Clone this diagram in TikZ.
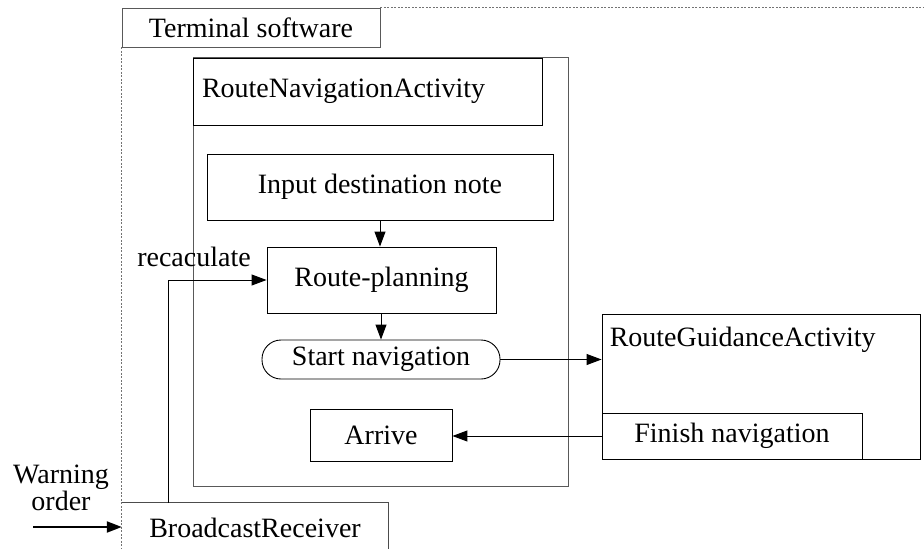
\documentclass[tikz,border=0pt]{standalone}
\usepackage{fontspec}
\setmainfont{Liberation Serif}
\usetikzlibrary{arrows.meta}
\begin{document}
\begin{tikzpicture}[x=1pt,y=-1pt,
  txt/.style={font=\fontsize{28}{24}\selectfont},
  box/.style={draw, line width=0.9pt, inner sep=0pt, txt},
  graybox/.style={box, draw=black!65},
  arr/.style={-{Triangle[length=15pt,width=11pt]}, line width=1pt},
  frame/.style={draw=black!55, line width=0.8pt, dash pattern=on 2pt off 1.5pt}]
\useasboundingbox (0,0) rectangle (924,549);
% outer software frame
\node[graybox, minimum width=258, minimum height=39] (term) at (251,27.5) {Terminal software};
\coordinate (fr) at (924,549);
\draw[frame] (term.north east) -- (term.north east -| fr);
\draw[frame] (term.south west) -- (term.south west |- fr);
% RouteNavigationActivity
\node[graybox, minimum width=375, minimum height=429] (rnav) at (380.5,271.5) {};
\node[box, minimum height=67, inner xsep=9pt, text width=331, align=left] (rtitle) at (367.5,91.5) {RouteNavigationActivity};
\node[box, minimum width=346, minimum height=66] (input) at (380,187) {Input destination note};
\node[box, minimum width=229, minimum height=66] (plan) at (381.5,280) {Route-planning};
\node[box, minimum width=238, minimum height=39, rounded corners=19] (start) at (381,359.5) {Start navigation};
\node[box, minimum width=142, minimum height=52] (arrive) at (381,435) {Arrive};
% RouteGuidanceActivity
\node[box, minimum width=318, minimum height=145,
  label={[txt, anchor=north west, inner sep=0pt, xshift=8pt, yshift=-13pt]north west:RouteGuidanceActivity}] (guide) at (761,386.5) {};
\node[box, minimum width=260, minimum height=46] (finish) at (732,436) {Finish navigation};
% BroadcastReceiver
\node[txt, minimum width=266, minimum height=50, inner sep=0pt] (bcast) at (255,528) {BroadcastReceiver};
\draw[line width=0.9pt, black!70] (bcast.north west) -- (bcast.north east) -- (bcast.south east);
% labels
\node[txt, inner sep=0pt] (recalc) at (194,257) {recaculate};
\node[txt, inner sep=0pt, align=center] (warn) at (61,488) {Warning\\order};
% connectors
\draw[arr] (input.south) -- (input.south |- plan.north);
\draw[arr] (plan.south -| start.north) -- (start.north);
\draw[arr] (start.east) -- (start.east -| guide.west);
\draw[arr] (finish.west) -- (finish.west -| arrive.east);
\coordinate (rc) at (168,0);
\draw[arr] (bcast.north -| rc) |- (plan.west);
\coordinate (w) at (33,527);
\draw[arr, line width=2pt] (w) -- (w -| bcast.west);
\end{tikzpicture}
\end{document}
